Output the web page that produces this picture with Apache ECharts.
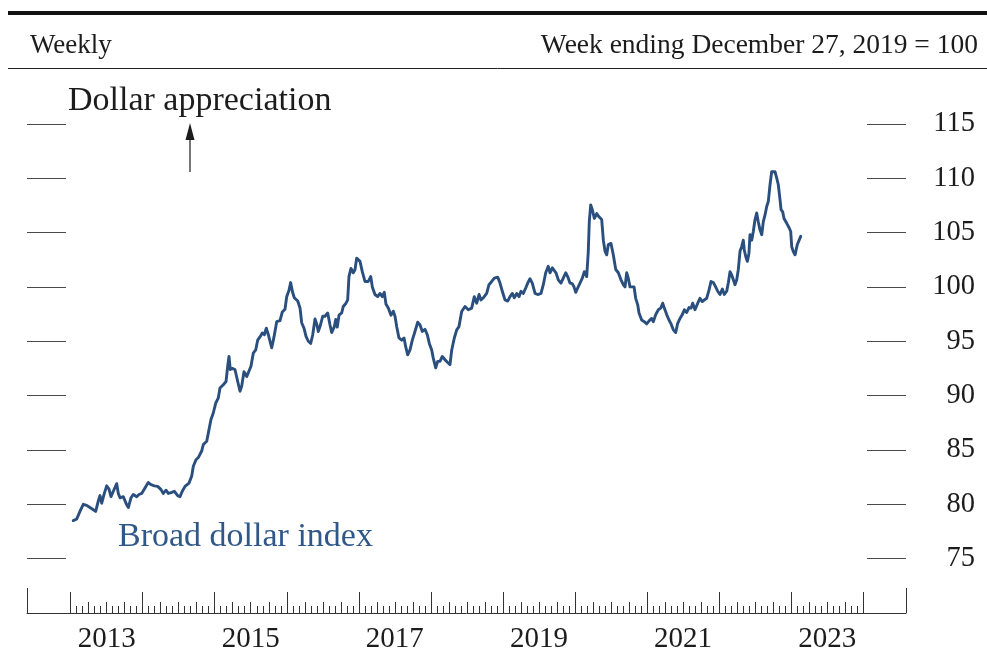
<!DOCTYPE html>
<html>
<head>
<meta charset="utf-8">
<script src="https://cdn.jsdelivr.net/npm/echarts@6/dist/echarts.min.js"></script>
<style>
  html, body { margin: 0; padding: 0; background: #ffffff; }
  #chart { width: 987px; height: 657px; }
</style>
</head>
<body>
<div id="chart"></div>
<script>
// Broad dollar index, weekly; week ending December 27, 2019 = 100.
// Time is kept as decimal years (2013.5 = mid-2013).
const weekTimes = [
  2013.037, 2013.085, 2013.130, 2013.176, 2013.223, 2013.269, 2013.315, 2013.348, 2013.384, 2013.408,
  2013.432, 2013.468, 2013.501, 2013.533, 2013.561, 2013.593, 2013.640, 2013.662, 2013.686, 2013.731,
  2013.779, 2013.801, 2013.838, 2013.870, 2013.917, 2013.949, 2013.987, 2014.032, 2014.078, 2014.116,
  2014.162, 2014.209, 2014.255, 2014.286, 2014.324, 2014.356, 2014.403, 2014.439, 2014.486, 2014.518,
  2014.550, 2014.588, 2014.643, 2014.681, 2014.703, 2014.740, 2014.772, 2014.819, 2014.842, 2014.889,
  2014.911, 2014.948, 2014.980, 2015.014, 2015.050, 2015.073, 2015.119, 2015.157, 2015.180, 2015.198,
  2015.216, 2015.244, 2015.281, 2015.319, 2015.351, 2015.374, 2015.406, 2015.444, 2015.466, 2015.503,
  2015.535, 2015.569, 2015.596, 2015.628, 2015.660, 2015.688, 2015.716, 2015.744, 2015.767, 2015.791,
  2015.823, 2015.860, 2015.906, 2015.938, 2015.975, 2015.999, 2016.031, 2016.054, 2016.077, 2016.104,
  2016.152, 2016.184, 2016.207, 2016.239, 2016.267, 2016.299, 2016.332, 2016.360, 2016.392, 2016.419,
  2016.437, 2016.461, 2016.499, 2016.530, 2016.568, 2016.600, 2016.623, 2016.660, 2016.679, 2016.701,
  2016.725, 2016.762, 2016.784, 2016.822, 2016.845, 2016.863, 2016.891, 2016.923, 2016.947, 2016.970,
  2017.016, 2017.048, 2017.085, 2017.131, 2017.165, 2017.187, 2017.224, 2017.262, 2017.294, 2017.326,
  2017.353, 2017.377, 2017.409, 2017.446, 2017.478, 2017.502, 2017.525, 2017.557, 2017.595, 2017.627,
  2017.650, 2017.678, 2017.710, 2017.742, 2017.779, 2017.817, 2017.849, 2017.881, 2017.918, 2017.950,
  2017.978, 2018.011, 2018.033, 2018.067, 2018.094, 2018.126, 2018.158, 2018.196, 2018.233, 2018.265,
  2018.289, 2018.325, 2018.358, 2018.390, 2018.427, 2018.473, 2018.519, 2018.566, 2018.602, 2018.636,
  2018.668, 2018.695, 2018.727, 2018.774, 2018.806, 2018.844, 2018.880, 2018.927, 2018.959, 2018.991,
  2019.028, 2019.066, 2019.098, 2019.130, 2019.157, 2019.191, 2019.223, 2019.250, 2019.282, 2019.316,
  2019.343, 2019.375, 2019.407, 2019.445, 2019.482, 2019.528, 2019.560, 2019.593, 2019.629, 2019.653,
  2019.685, 2019.712, 2019.736, 2019.768, 2019.805, 2019.837, 2019.871, 2019.898, 2019.930, 2019.962,
  2019.986, 2020.010, 2020.037, 2020.069, 2020.101, 2020.129, 2020.162, 2020.184, 2020.198, 2020.218,
  2020.240, 2020.268, 2020.301, 2020.333, 2020.347, 2020.370, 2020.393, 2020.416, 2020.440, 2020.462,
  2020.499, 2020.531, 2020.565, 2020.601, 2020.638, 2020.670, 2020.694, 2020.717, 2020.739, 2020.763,
  2020.787, 2020.819, 2020.842, 2020.870, 2020.888, 2020.925, 2020.961, 2020.995, 2021.031, 2021.064,
  2021.086, 2021.120, 2021.156, 2021.189, 2021.217, 2021.239, 2021.272, 2021.304, 2021.332, 2021.364,
  2021.397, 2021.425, 2021.457, 2021.489, 2021.517, 2021.550, 2021.582, 2021.610, 2021.633, 2021.665,
  2021.703, 2021.734, 2021.766, 2021.794, 2021.827, 2021.859, 2021.887, 2021.919, 2021.952, 2021.980,
  2022.012, 2022.044, 2022.072, 2022.105, 2022.128, 2022.151, 2022.174, 2022.197, 2022.220, 2022.244,
  2022.266, 2022.290, 2022.313, 2022.335, 2022.349, 2022.369, 2022.391, 2022.414, 2022.428, 2022.452,
  2022.474, 2022.498, 2022.521, 2022.543, 2022.567, 2022.591, 2022.613, 2022.636, 2022.660, 2022.682,
  2022.706, 2022.729, 2022.752, 2022.775, 2022.799, 2022.821, 2022.845, 2022.859, 2022.882, 2022.900,
  2022.938, 2022.974, 2022.993, 2023.007, 2023.029, 2023.053, 2023.067, 2023.085, 2023.108, 2023.132
];
const broadIndex = [
  78.5, 78.65, 79.35, 80.0, 79.9, 79.7, 79.5, 79.35, 80.3, 80.8,
  80.1, 81.0, 81.7, 81.4, 80.7, 81.2, 81.9, 81.0, 80.6, 80.7,
  79.95, 79.7, 80.6, 80.9, 80.7, 80.9, 81.0, 81.5, 82.0, 81.8,
  81.7, 81.65, 81.35, 81.0, 81.3, 81.0, 81.1, 81.2, 80.8, 80.7,
  81.2, 81.65, 81.95, 82.6, 83.5, 84.1, 84.3, 84.9, 85.5, 85.8,
  86.55, 87.8, 88.4, 89.3, 89.8, 90.7, 91.0, 91.3, 92.7, 93.6,
  92.4, 92.5, 92.4, 91.3, 90.4, 90.85, 92.2, 91.75, 91.6, 92.7,
  93.9, 94.2, 95.1, 95.4, 95.75, 95.6, 96.2, 95.6, 95.0, 94.4,
  95.4, 96.8, 96.9, 97.7, 97.95, 99.1, 99.7, 100.4, 99.6, 99.0,
  98.7, 98.05, 96.7, 96.2, 95.45, 95.0, 94.8, 95.6, 97.05, 96.5,
  95.9, 96.35, 97.3, 97.3, 97.6, 96.5, 95.8, 96.35, 97.0, 96.3,
  97.4, 97.6, 98.2, 98.5, 98.8, 100.95, 101.7, 101.3, 101.6, 102.65,
  102.35, 101.4, 100.5, 100.5, 100.95, 100.0, 99.3, 99.1, 99.4, 99.1,
  99.5, 98.4, 98.05, 97.4, 97.75, 97.3, 96.35, 95.3, 95.1, 95.3,
  94.5, 93.75, 94.2, 95.1, 95.9, 96.75, 96.5, 95.9, 96.1, 95.6,
  94.8, 94.2, 93.45, 92.55, 93.15, 93.15, 93.6, 93.3, 93.05, 92.85,
  94.2, 95.3, 96.05, 96.35, 97.74, 98.2, 97.9, 98.05, 99.1, 98.5,
  99.3, 98.8, 99.0, 99.4, 100.2, 100.5, 100.8, 100.9, 100.35, 99.6,
  98.8, 98.7, 99.1, 99.4, 99.0, 99.4, 99.1, 99.6, 99.4, 99.9,
  100.35, 100.75, 100.35, 99.4, 99.3, 99.4, 100.2, 101.3, 101.9, 101.3,
  101.75, 101.9, 101.3, 100.65, 100.35, 100.8, 101.3, 100.95, 100.35, 100.3,
  100.0, 99.5, 99.9, 100.35, 100.8, 101.4, 100.95, 103.25, 106.0, 107.55,
  107.1, 106.3, 106.75, 106.45, 106.6, 106.2, 104.3, 103.3, 102.95, 103.9,
  104.0, 102.95, 101.6, 101.3, 100.65, 100.2, 100.0, 101.3, 100.8, 100.0,
  99.85, 100.0, 98.95, 98.35, 97.6, 96.95, 96.8, 96.6, 96.9, 97.1,
  96.8, 97.45, 97.9, 98.05, 98.5, 98.05, 97.45, 96.95, 96.6, 96.05,
  95.8, 96.65, 97.1, 97.45, 97.9, 97.65, 98.1, 98.05, 98.5, 97.9,
  98.5, 98.95, 98.65, 98.8, 98.95, 99.7, 100.5, 100.4, 100.0, 99.6,
  99.3, 99.8, 99.3, 99.6, 100.4, 101.4, 101.1, 100.65, 100.2, 100.65,
  101.6, 103.3, 103.7, 104.3, 103.4, 102.8, 102.35, 103.1, 104.8, 104.3,
  105.1, 106.2, 106.8, 106.0, 105.25, 104.8, 106.0, 106.6, 107.4, 107.85,
  109.4, 110.6, 110.5, 110.6, 110.0, 109.4, 108.0, 107.1, 106.9, 106.3,
  105.85, 105.4, 105.1, 103.7, 103.25, 102.95, 102.8, 103.9, 104.0, 104.65
];

// Axis tick values and labels
const yTickValues = [75, 80, 85, 90, 95, 100, 105, 110, 115];
const yearLabels = [2013, 2015, 2017, 2019, 2021, 2023];
const tickYears = [2013, 2014, 2015, 2016, 2017, 2018, 2019, 2020, 2021, 2022, 2023, 2024];
const axisStart = 2012.395;
const axisEnd = 2024.593;

const seriesData = weekTimes.map((t, i) => [t, broadIndex[i]]);

// Year, quarter and month tick positions along the time axis
const quarterTicks = [];
const monthTicks = [];
tickYears.slice(0, -1).forEach(y => {
  for (let m = 1; m < 12; m++) {
    (m % 3 === 0 ? quarterTicks : monthTicks).push(y + m / 12);
  }
});

const SERIF = '"Liberation Serif", "Times New Roman", serif';
const INK = '#1c1c1c';
const TICK = '#4a4a4a';
const LINE_BLUE = '#2a4f7e';

function timeAxis(ticks, len, extra) {
  return Object.assign({
    type: 'value',
    min: axisStart,
    max: axisEnd,
    position: 'bottom',
    offset: 0,
    axisLine: { show: false },
    splitLine: { show: false },
    axisTick: { show: true, inside: true, length: len, customValues: ticks,
                lineStyle: { color: '#333', width: 1 } },
    axisLabel: { show: false }
  }, extra || {});
}

const chart = echarts.init(document.getElementById('chart'), null, { renderer: 'canvas' });

chart.setOption({
  animation: false,
  backgroundColor: '#ffffff',
  grid: { left: 27, right: 81, top: 69.5, bottom: 44, containLabel: false },
  xAxis: [
    timeAxis([axisStart, axisEnd], 25, {
      axisLine: { show: true, lineStyle: { color: '#333', width: 1 } },
      axisLabel: {
        show: true,
        customValues: yearLabels.map(y => y + 0.5),
        formatter: v => String(Math.floor(v)),
        margin: 12,
        fontFamily: SERIF,
        fontSize: 29,
        color: INK
      }
    }),
    timeAxis(tickYears, 21),
    timeAxis(quarterTicks, 11),
    timeAxis(monthTicks, 7)
  ],
  yAxis: [
    {
      type: 'value', min: 70, max: 120, position: 'left',
      axisLine: { show: false }, splitLine: { show: false },
      axisTick: { show: true, inside: true, length: 39, customValues: yTickValues,
                  lineStyle: { color: TICK, width: 1 } },
      axisLabel: { show: false }
    },
    {
      type: 'value', min: 70, max: 120, position: 'right',
      axisLine: { show: false }, splitLine: { show: false },
      axisTick: { show: true, inside: true, length: 39, customValues: yTickValues,
                  lineStyle: { color: TICK, width: 1 } },
      axisLabel: {
        show: true, customValues: yTickValues, align: 'right', margin: 69,
        fontFamily: SERIF, fontSize: 28.5, color: INK
      }
    }
  ],
  series: [{
    name: 'Broad dollar index',
    type: 'line',
    xAxisIndex: 0,
    yAxisIndex: 0,
    data: seriesData,
    showSymbol: false,
    symbol: 'none',
    lineStyle: { color: LINE_BLUE, width: 2.9, join: 'round', cap: 'round' },
    z: 5
  }],
  graphic: [
    // heavy top rule and thin rule under the header line
    { type: 'rect', shape: { x: 8, y: 11, width: 979, height: 4 }, style: { fill: '#111' } },
    { type: 'line', shape: { x1: 8, y1: 68.5, x2: 987, y2: 68.5 }, style: { stroke: '#222', lineWidth: 1 } },
    { type: 'text', style: { text: 'Weekly', x: 30, y: 46, font: '27px ' + SERIF,
                              fill: INK, textAlign: 'left', textVerticalAlign: 'middle' } },
    { type: 'text', style: { text: 'Week ending December 27, 2019 = 100', x: 978, y: 46,
                              font: '27.5px ' + SERIF, fill: INK, textAlign: 'right',
                              textVerticalAlign: 'middle' } },
    // appreciation note with upward arrow
    { type: 'text', style: { text: 'Dollar appreciation', x: 68, y: 101, font: '34px ' + SERIF,
                              fill: INK, textAlign: 'left', textVerticalAlign: 'middle' } },
    { type: 'line', shape: { x1: 190, y1: 172, x2: 190, y2: 138 }, style: { stroke: INK, lineWidth: 1.2 } },
    { type: 'polygon', shape: { points: [[185.5, 140], [194.5, 140], [190, 123]] }, style: { fill: INK } },
    // series label
    { type: 'text', style: { text: 'Broad dollar index', x: 118, y: 537, font: '34px ' + SERIF,
                              fill: '#2f5889', textAlign: 'left', textVerticalAlign: 'middle' } }
  ]
});
</script>
</body>
</html>
